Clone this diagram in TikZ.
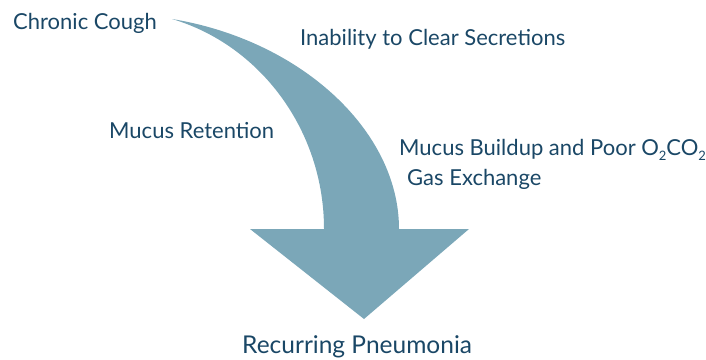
\documentclass[tikz,border=0pt]{standalone}
\usepackage{fontspec}
\setmainfont{Lato}
\definecolor{arrowblue}{HTML}{7BA7B8}
\definecolor{textnavy}{HTML}{1A4766}
\newcommand{\subtwo}{\raisebox{-0.45ex}{\fontsize{13}{13}\selectfont 2}}
\begin{document}
\begin{tikzpicture}[x=1pt,y=-1pt,
  lbl/.style={anchor=base west,inner sep=0pt,text=textnavy,font=\fontsize{22}{26}\selectfont}]
\useasboundingbox (0,0) rectangle (706,359);
\fill[arrowblue] (172,19) .. controls (300,40) and (399,130) .. (399,229)
  -- (469,229) -- (364,319) -- (250,229) -- (324,229)
  .. controls (324,130) and (260,45) .. (172,19) -- cycle;
\node[lbl] (cough) at (13,29) {Chronic Cough};
\node[lbl] (inab) at (300,45) {Inability to Clear Secretions};
\node[lbl] (ret) at (109,138) {Mucus Retention};
\node[lbl] (build) at (399,155) {Mucus Buildup and Poor O\subtwo CO\subtwo};
\node[lbl] (gas) at (407,185) {Gas Exchange};
\node[lbl,font=\fontsize{24.5}{28}\selectfont] (pneu) at (242,353) {Recurring Pneumonia};
\end{tikzpicture}
\end{document}
